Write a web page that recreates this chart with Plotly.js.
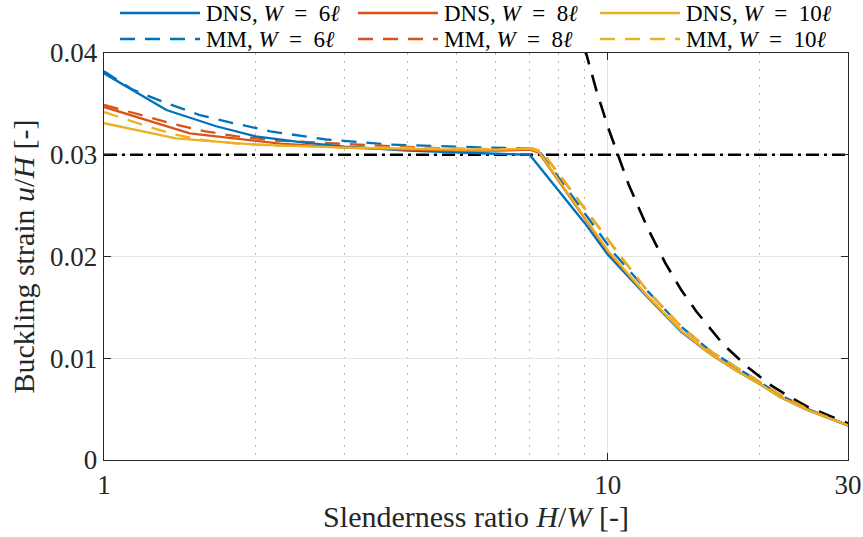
<!DOCTYPE html>
<html>
<head>
<meta charset="utf-8">
<script src="https://cdn.plot.ly/plotly-3.0.1.min.js"></script>
<style>html,body{margin:0;padding:0;background:#fff;}#chart{width:863px;height:537px;}</style>
</head>
<body>
<div id="chart"></div>
<script>
// ---- data ----
var dnsX6 = [1, 1.33, 1.67, 2, 2.5, 3, 4, 5, 6, 7, 8, 9, 10, 12, 14, 16, 18, 20, 22, 25, 30];
var dnsY6 = [0.0380, 0.0344, 0.0328, 0.0318, 0.0312, 0.0308, 0.0304, 0.0302, 0.0301, 0.0300, 0.0265, 0.0233, 0.0202, 0.0160, 0.0126, 0.0104, 0.0088, 0.0075, 0.0062, 0.0049, 0.0034];

var dnsX8 = [1, 1.48, 2.24, 3, 4, 5, 6, 7, 7.3, 8, 9, 10, 12, 14, 16, 18, 20, 22, 25, 30];
var dnsY8 = [0.0347, 0.0321, 0.0311, 0.0307, 0.0305, 0.0304, 0.0304, 0.0305, 0.0302, 0.0274, 0.0237, 0.0205, 0.0161, 0.0127, 0.0104, 0.0088, 0.0075, 0.0062, 0.0049, 0.0034];

var dnsX10 = [1, 1.39, 2, 3, 4, 5, 6, 7, 7.3, 8, 9, 10, 12, 14, 16, 18, 20, 22, 25, 30];
var dnsY10 = [0.0331, 0.0316, 0.0310, 0.0307, 0.0306, 0.0305, 0.0305, 0.0306, 0.0303, 0.0275, 0.0238, 0.0206, 0.0161, 0.0127, 0.0104, 0.0088, 0.0075, 0.0062, 0.0049, 0.0034];

var mmX6 = [1, 1.14, 1.31, 1.55, 1.81, 2.14, 2.76, 3.69, 5, 6, 7, 7.33, 8, 9, 10.3, 12, 14, 16, 18, 20, 22, 25, 30];
var mmY6 = [0.0382, 0.0364, 0.0352, 0.0339, 0.0331, 0.0323, 0.0315, 0.0310, 0.0308, 0.0307, 0.0306, 0.0303, 0.0277, 0.0243, 0.0203, 0.0166, 0.0131, 0.0107, 0.0091, 0.0077, 0.0064, 0.0050, 0.0034];

var mmX8 = [1, 1.2, 1.38, 1.59, 1.84, 2.2, 2.85, 3.81, 5, 6, 6.7, 7.1, 7.4, 8, 9, 10.5, 12, 14, 16, 18, 20, 22, 25, 30];
var mmY8 = [0.0349, 0.0338, 0.0330, 0.0323, 0.0318, 0.0314, 0.0311, 0.0308, 0.0306, 0.0305, 0.0305, 0.0306, 0.0303, 0.0281, 0.0247, 0.0203, 0.0166, 0.0131, 0.0107, 0.0091, 0.0077, 0.0064, 0.0050, 0.0034];

var mmX10 = [1, 1.2, 1.38, 1.59, 1.84, 2.2, 2.85, 3.81, 5, 6, 6.7, 7.1, 7.4, 8, 9, 10.5, 12, 14, 16, 18, 20, 22, 25, 30];
var mmY10 = [0.0342, 0.0329, 0.0320, 0.0314, 0.0311, 0.0309, 0.0308, 0.0307, 0.0306, 0.0305, 0.0305, 0.0306, 0.0303, 0.0281, 0.0247, 0.0203, 0.0166, 0.0131, 0.0107, 0.0091, 0.0077, 0.0064, 0.0050, 0.0034];

var eulerX = [9.0, 9.5, 10, 11, 12, 13, 14, 15, 17, 19, 21, 23, 25, 27, 30];
var eulerY = [0.0405, 0.0363, 0.0328, 0.0271, 0.0228, 0.0194, 0.0167, 0.0146, 0.0113, 0.0091, 0.0074, 0.0062, 0.0052, 0.0045, 0.0036];

var refX = [1, 30];
var refY = [0.03, 0.03];

var xTickVals = [1, 10, 30];
var xTickText = ['1', '10', '30'];
var xMinorVals = [2, 3, 4, 5, 6, 7, 8, 9, 20];

var EQ = '\u2002=\u2002';
var legendNames = [
  'DNS, <i>W</i>' + EQ + '6<i>ℓ</i>', 'DNS, <i>W</i>' + EQ + '8<i>ℓ</i>', 'DNS, <i>W</i>' + EQ + '10<i>ℓ</i>',
  'MM, <i>W</i>' + EQ + '6<i>ℓ</i>', 'MM, <i>W</i>' + EQ + '8<i>ℓ</i>', 'MM, <i>W</i>' + EQ + '10<i>ℓ</i>'
];

// ---- styling ----
var BLUE = '#0072BD', ORANGE = '#D95319', YELLOW = '#EDB120';
var FONT = 'Liberation Serif, Times New Roman, serif';
var DASH = '15px,10px';
var LW = 2.3;

function tr(x, y, color, dash, name, w) {
  return {x: x, y: y, type: 'scatter', mode: 'lines', name: name,
          line: {color: color, width: w || LW, dash: dash}, showlegend: false, hoverinfo: 'skip'};
}

var data = [
  tr(refX, refY, '#000000', '13px,5px,3px,5px', 'ref', 2.6),
  tr(eulerX, eulerY, '#000000', '17px,11px', 'Euler', 2.6),
  tr(mmX6, mmY6, BLUE, DASH, legendNames[3]),
  tr(mmX8, mmY8, ORANGE, DASH, legendNames[4]),
  tr(mmX10, mmY10, YELLOW, DASH, legendNames[5]),
  tr(dnsX6, dnsY6, BLUE, 'solid', legendNames[0]),
  tr(dnsX8, dnsY8, ORANGE, 'solid', legendNames[1]),
  tr(dnsX10, dnsY10, YELLOW, 'solid', legendNames[2])
];

// ---- custom legend (long line samples as in the reference) ----
var W = 863, H = 537;
var M = {l: 104, r: 15, t: 53, b: 77};
var PW = W - M.l - M.r, PH = H - M.t - M.b;
function px2x(px) { return (px - M.l) / PW; }
function py2y(py) { return (H - M.b - py) / PH; }

var legItems = [
  {name: legendNames[0], color: BLUE, dash: 'solid'},
  {name: legendNames[1], color: ORANGE, dash: 'solid'},
  {name: legendNames[2], color: YELLOW, dash: 'solid'},
  {name: legendNames[3], color: BLUE, dash: DASH},
  {name: legendNames[4], color: ORANGE, dash: DASH},
  {name: legendNames[5], color: YELLOW, dash: DASH}
];
var colStart = [120, 358, 600];
var rowY = [13, 39];
var shapes = [], annotations = [];
legItems.forEach(function (it, i) {
  var c = i % 3, r = Math.floor(i / 3);
  var x0 = colStart[c];
  shapes.push({type: 'line', xref: 'paper', yref: 'paper',
    x0: px2x(x0), x1: px2x(x0 + 80), y0: py2y(rowY[r]), y1: py2y(rowY[r]),
    line: {color: it.color, width: LW, dash: it.dash}});
  annotations.push({xref: 'paper', yref: 'paper', x: px2x(x0 + 85), y: py2y(rowY[r]),
    xanchor: 'left', yanchor: 'middle', showarrow: false, text: it.name, borderpad: 0,
    font: {family: FONT, size: 23, color: '#000'}});
});

var layout = {
  width: W, height: H,
  margin: M,
  paper_bgcolor: '#fff', plot_bgcolor: '#fff',
  showlegend: false,
  font: {family: FONT, size: 27, color: '#262626'},
  xaxis: {
    type: 'log', range: [0, Math.log10(30)],
    tickmode: 'array', tickvals: xTickVals, ticktext: xTickText,
    ticks: 'inside', ticklen: 7, tickcolor: '#262626', tickwidth: 1,
    showline: true, linecolor: '#262626', linewidth: 1.3, mirror: 'ticks',
    showgrid: true, gridcolor: '#e3e3e3', gridwidth: 1,
    minor: {tickmode: 'array', tickvals: xMinorVals, showgrid: true, gridcolor: '#b8b8b8', griddash: '2px,6px', gridwidth: 1, ticks: ''},
    tickfont: {family: FONT, size: 27, color: '#262626'},
    title: {text: 'Slenderness ratio <i>H</i>/<i>W</i> [-]', font: {family: FONT, size: 30, color: '#262626'}, standoff: 6},
    zeroline: false
  },
  yaxis: {
    range: [0, 0.04], dtick: 0.01, tick0: 0,
    ticks: 'inside', ticklen: 7, tickcolor: '#262626', tickwidth: 1,
    showline: true, linecolor: '#262626', linewidth: 1.3, mirror: 'ticks',
    showgrid: true, gridcolor: '#e3e3e3', gridwidth: 1,
    tickfont: {family: FONT, size: 27, color: '#262626'},
    title: {text: 'Buckling strain <i>u</i>/<i>H</i> [-]', font: {family: FONT, size: 30, color: '#262626'}, standoff: 6},
    zeroline: false
  },
  shapes: shapes,
  annotations: annotations
};

Plotly.newPlot('chart', data, layout, {staticPlot: true, displayModeBar: false});
</script>
</body>
</html>
